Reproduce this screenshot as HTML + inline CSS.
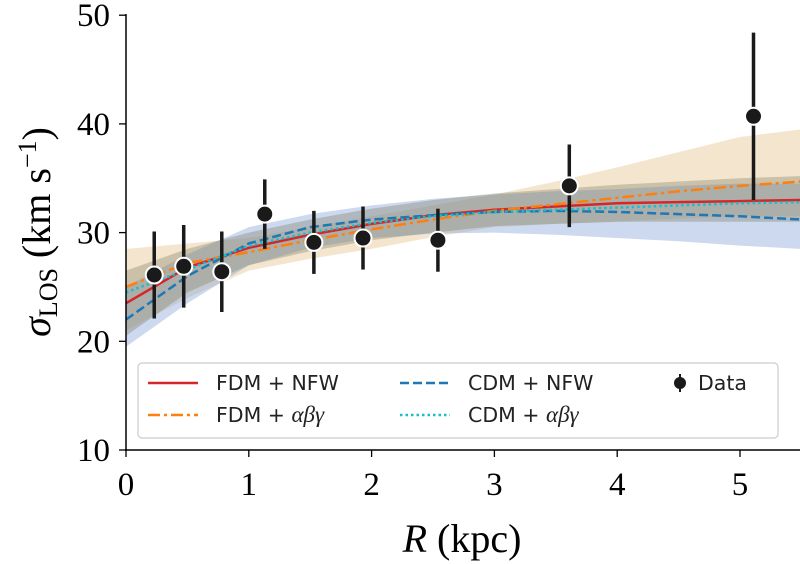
<!DOCTYPE html>
<html><head><meta charset="utf-8"><style>
body{margin:0;background:#fff;}
svg{display:block;font-family:"Liberation Serif",serif;}
.leg{font-family:"DejaVu Sans","Liberation Sans",sans-serif;font-size:20.5px;fill:#222;}
</style></head><body>
<svg id="chart" width="800" height="564" viewBox="0 0 800 564">
<g id="bands"></g>
<g id="lines"></g>
<g id="pts"></g>
<g id="axes"></g>
<g>
<rect x="138" y="363" width="640" height="75" rx="4" fill="#fff" fill-opacity="0.85" stroke="#ccc" stroke-width="1.2"/>
<line x1="148" y1="383" x2="198" y2="383" stroke="#d62728" stroke-width="2.5"/>
<text class="leg" x="216" y="390">FDM + NFW</text>
<line x1="148" y1="415" x2="198" y2="415" stroke="#ff7f0e" stroke-width="2.5" stroke-dasharray="12,4,3,4"/>
<text class="leg" x="216" y="422">FDM + <tspan font-family="Liberation Serif" font-style="italic" font-size="23">αβγ</tspan></text>
<line x1="400" y1="383" x2="450" y2="383" stroke="#1f77b4" stroke-width="2.5" stroke-dasharray="9,4"/>
<text class="leg" x="468" y="390">CDM + NFW</text>
<line x1="400" y1="415" x2="450" y2="415" stroke="#17becf" stroke-width="2.5" stroke-dasharray="2.5,3"/>
<text class="leg" x="468" y="422">CDM + <tspan font-family="Liberation Serif" font-style="italic" font-size="23">αβγ</tspan></text>
<circle cx="680" cy="383" r="6" fill="#1a1a1a"/>
<line x1="680" y1="374" x2="680" y2="392" stroke="#1a1a1a" stroke-width="2"/>
<text class="leg" x="698" y="390">Data</text>
</g>
<text x="462" y="552" font-size="40" text-anchor="middle"><tspan font-style="italic">R</tspan> (kpc)</text>
<text transform="translate(50,232) rotate(-90)" font-size="40" text-anchor="middle"><tspan font-style="italic">σ</tspan><tspan font-size="26" dy="7">LOS</tspan><tspan dy="-7"> (km s</tspan><tspan font-size="26" dy="-14">−1</tspan><tspan dy="14">)</tspan></text>
</svg>
<script>
const xTicks=[0,1,2,3,4,5];
const yTicks=[10,20,30,40,50];
const dataR=[0.23,0.47,0.78,1.13,1.53,1.93,2.54,3.61,5.11];
const dataSigma=[26.1,26.9,26.4,31.7,29.1,29.5,29.3,34.3,40.7];
const dataErr=[4.0,3.8,3.7,3.2,2.9,2.9,2.9,3.8,7.7];
const curveR=[0,0.5,1,1.5,2,2.5,3,3.5,4,4.5,5,5.5];
const fdmNfw=[23.5,26.8,28.6,29.8,30.8,31.6,32.1,32.4,32.7,32.8,32.9,33.0];
const fdmAbg=[25.0,27.2,28.2,29.3,30.3,31.2,32.0,32.6,33.2,33.8,34.3,34.7];
const cdmNfw=[22.0,26.0,29.0,30.5,31.2,31.6,31.9,32.0,31.9,31.7,31.5,31.2];
const cdmAbg=[24.5,26.6,28.8,30.0,30.9,31.5,31.9,32.1,32.3,32.5,32.7,32.8];
const blueLo=[19.5,23.5,27.0,28.6,29.5,29.9,30.0,29.8,29.5,29.2,28.8,28.5];
const blueHi=[25.0,28.0,30.5,31.7,32.5,33.1,33.5,33.8,34.0,34.3,34.5,34.5];
const orangeLo=[21.0,24.0,26.5,27.6,28.5,29.6,30.5,30.8,31.0,31.3,31.5,31.5];
const orangeHi=[28.5,29.0,29.5,30.5,31.5,32.5,33.5,34.7,36.0,37.4,38.8,39.5];
const redLo=[20.5,24.5,27.0,28.3,29.3,30.0,30.6,30.8,31.0,31.0,31.0,31.0];
const redHi=[26.5,28.5,30.0,31.2,32.2,33.0,33.6,34.0,34.4,34.7,35.0,35.2];
const X=v=>126+v*122.8, Y=v=>450-(v-10)*10.87;
const NS='http://www.w3.org/2000/svg';
function mk(p,t,a){const e=document.createElementNS(NS,t);for(const k in a)e.setAttribute(k,a[k]);p.appendChild(e);return e;}
const bands=document.getElementById('bands'),lines=document.getElementById('lines'),pts=document.getElementById('pts'),axes=document.getElementById('axes');
function band(lo,hi,col,op,name){let d='M'+curveR.map((r,i)=>X(r)+','+Y(hi[i])).join('L');
for(let i=curveR.length-1;i>=0;i--)d+='L'+X(curveR[i])+','+Y(lo[i]);
const e=mk(bands,'path',{d:d+'Z',fill:col,'fill-opacity':op});

}
band(orangeLo,orangeHi,'#d9a95c',0.3,'fdm-abg-band');
band(blueLo,blueHi,'#7f9fd6',0.4,'cdm-nfw-band');
band(redLo,redHi,'#7f7a60',0.35,'fdm-nfw-band');
function curve(v,col,dash,name){const e=mk(lines,'path',{d:'M'+curveR.map((r,i)=>X(r)+','+Y(v[i])).join('L'),fill:'none',stroke:col,'stroke-width':2.5,'stroke-dasharray':dash});

}
curve(fdmNfw,'#d62728','none','fdm-nfw-curve');
curve(fdmAbg,'#ff7f0e','12,4,3,4','fdm-abg-curve');
curve(cdmNfw,'#1f77b4','9,4','cdm-nfw-curve');
curve(cdmAbg,'#17becf','2.5,3','cdm-abg-curve');
dataR.map((r,i)=>{const g=mk(pts,'g',{});


mk(g,'line',{x1:X(r),x2:X(r),y1:Y(dataSigma[i]-dataErr[i]),y2:Y(dataSigma[i]+dataErr[i]),stroke:'#1a1a1a','stroke-width':3.5});
mk(g,'circle',{cx:X(r),cy:Y(dataSigma[i]),r:8.5,fill:'#1a1a1a',stroke:'#fff','stroke-width':2});});
mk(axes,'line',{x1:126,y1:14,x2:126,y2:451,stroke:'#000','stroke-width':1.5});
mk(axes,'line',{x1:125,y1:450,x2:800,y2:450,stroke:'#000','stroke-width':1.5});
xTicks.forEach(t=>{mk(axes,'line',{x1:X(t),x2:X(t),y1:450,y2:457,stroke:'#000','stroke-width':1.3});
const e=mk(axes,'text',{x:X(t),y:495,'font-size':33,'text-anchor':'middle'});e.textContent=t;

});
yTicks.forEach(t=>{mk(axes,'line',{x1:119,x2:126,y1:Y(t),y2:Y(t),stroke:'#000','stroke-width':1.3});
const e=mk(axes,'text',{x:110,y:Y(t)+11,'font-size':33,'text-anchor':'end'});e.textContent=t;

});
</script>
</body></html>
